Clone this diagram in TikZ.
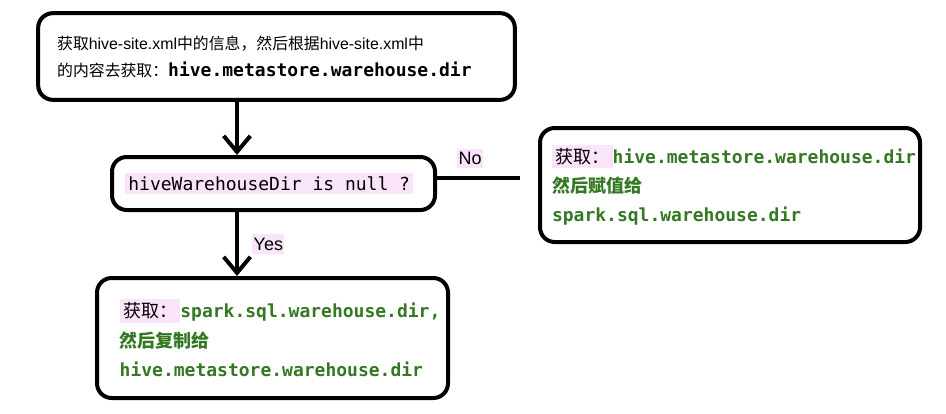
\documentclass[tikz,border=0pt]{standalone}
\usepackage{fontspec}
\setmainfont{Liberation Sans}
\setmonofont{DejaVu Sans Mono}
\newfontfamily\cjk{Noto Sans CJK SC}
\newfontfamily\codefont{DejaVu Sans Mono}
\usepackage{xcolor}
\usetikzlibrary{arrows.meta,positioning}

\definecolor{hlpink}{RGB}{250,228,250}
\definecolor{codegreen}{RGB}{52,120,36}
\newcommand{\hlbg}[1]{{\setlength{\fboxsep}{2.5pt}\colorbox{hlpink}{#1}}}
\newcommand{\code}[1]{\mbox{\fontsize{13.5}{16}\selectfont\codefont\bfseries #1}}
\newcommand{\monosp}{\hspace{0.602em}}

\begin{document}
\begin{tikzpicture}[x=0.75pt, y=-0.75pt,
    >={Straight Barb[length=12pt,width=20pt]},
    box/.style={draw, line width=3pt, rounded corners=11pt, align=left, inner ysep=0pt},
    lbl/.style={fill=hlpink, inner xsep=1pt, inner ysep=2.5pt, font=\fontsize{13.5}{15}\selectfont},
    flow/.style={->, line width=3pt}]
  \useasboundingbox (0,0) rectangle (946,414);

  % Read hive-site.xml
  \node[box, text width=329pt, inner xsep=14.25pt, minimum height=65pt,
        font=\fontsize{11.9}{20.25}\selectfont] (site) at (276.5,56.5)
    {{\cjk 获取}hive-site.xml{\cjk 中的信息，然后根据}hive-site.xml{\cjk 中}\\
     {\cjk 的内容去获取：}\code{hive.metastore.warehouse.dir}};

  % Decision
  \node[box, text width=222.75pt, inner xsep=9.75pt, minimum height=39.75pt] (check) at (273.5,183.5)
    {\hlbg{\fontsize{13.5}{16}\selectfont\codefont hiveWarehouseDir\monosp is\monosp null\monosp ?}};

  % No branch
  \node[box, text width=267pt, inner xsep=9pt, minimum height=85.5pt,
        font=\fontsize{13.5}{22}\selectfont, text=codegreen] (assign) at (730,185)
    {\hlbg{\color{black}\cjk 获取：}\code{hive.metastore.warehouse.dir}\\
     {\cjk\bfseries 然后赋值给}\\
     \code{spark.sql.warehouse.dir}};

  % Yes branch
  \node[box, text width=229.25pt, inner xsep=17pt, minimum height=90pt,
        font=\fontsize{13.5}{22}\selectfont, text=codegreen] (copy) at (272.5,338)
    {\hlbg{\color{black}\cjk 获取：}\code{spark.sql.warehouse.dir,}\\
     {\cjk\bfseries 然后复制给}\\
     \code{hive.metastore.warehouse.dir}};

  % Connectors
  \coordinate (axis) at (237,0);
  \coordinate (noend) at (520,178);
  \draw[flow] (site.south -| axis) -- (check.north -| axis);
  \draw[flow] (check.south -| axis) -- node[lbl, right=10pt] (yes) {Yes} (copy.north -| axis);
  \draw[line width=3pt] (check.east |- noend) -- node[lbl, above=6pt, pos=0.4] (no) {No} (noend);
\end{tikzpicture}
\end{document}
